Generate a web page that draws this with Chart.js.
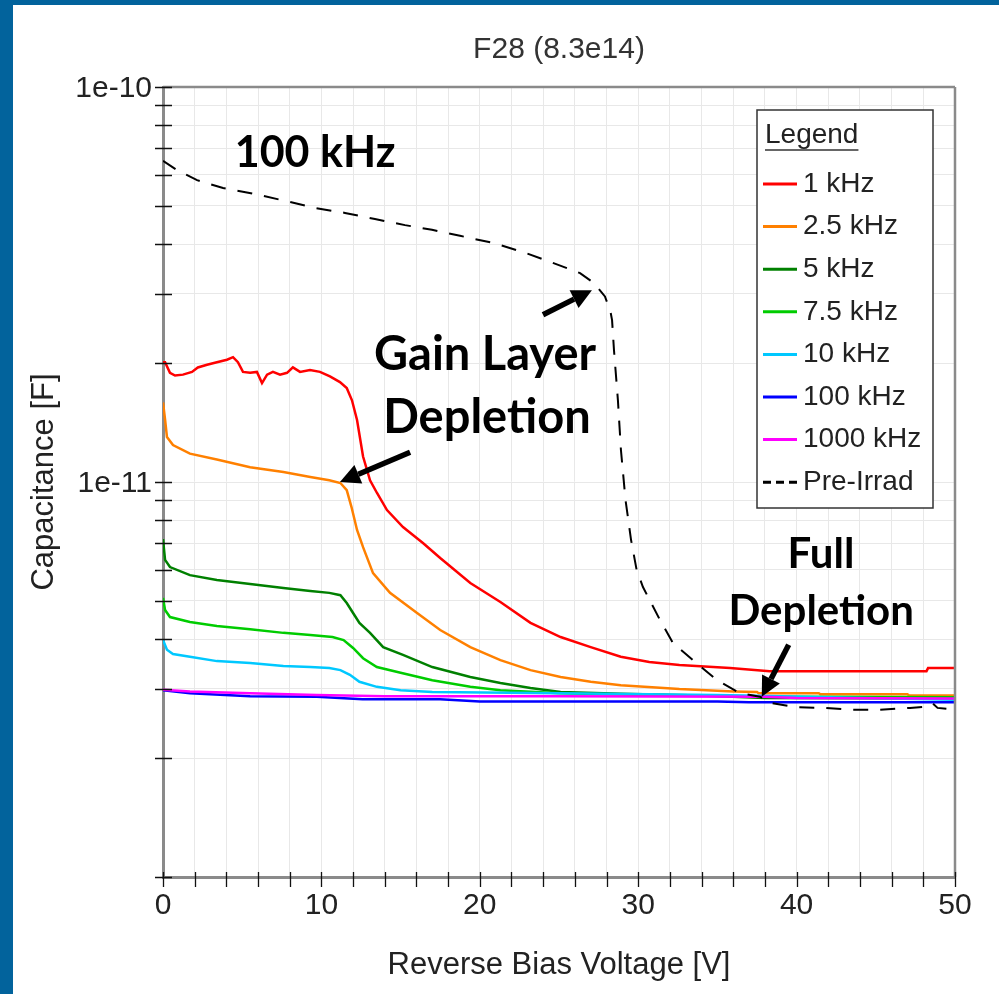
<!DOCTYPE html>
<html>
<head>
<meta charset="utf-8">
<title>F28 (8.3e14)</title>
<script src="https://cdn.jsdelivr.net/npm/chart.js@4.4.1/dist/chart.umd.min.js"></script>
<style>
  html, body { margin: 0; padding: 0; background: #ffffff; }
  #frame {
    width: 986px; height: 989px;
    border-left: 13px solid #02639c;
    border-top: 5px solid #02639c;
    background: #ffffff;
  }
  canvas { display: block; }
</style>
</head>
<body>
<div id="frame"><canvas id="cv" width="986" height="989"></canvas></div>
<script>
// ---- measured C-V curves (voltage in V, capacitance in pF) ----
const PF = 1e-12;

const volt1k = [0, 0.13, 0.44, 0.76, 1.26, 1.83, 2.2, 2.78, 3.4, 4.04, 4.42, 4.73, 5.05, 5.5, 5.93, 6.25, 6.57, 6.94, 7.39, 7.83, 8.2, 8.65, 9.28, 9.91, 10.54, 11.17, 11.6, 11.93, 12.25, 12.63, 13.07, 13.51, 14.14, 15.15, 16.41, 17.5, 19.4, 21.3, 23.2, 25.1, 27.0, 28.9, 30.7, 32.6, 35.8, 38.3, 44.0, 48.2, 48.3, 50];
const cap1k  = [20.1, 20.1, 18.9, 18.6, 18.7, 19.0, 19.5, 19.8, 20.1, 20.4, 20.7, 20.1, 19.0, 18.9, 19.0, 17.8, 18.7, 19.0, 18.7, 18.9, 19.5, 19.0, 19.2, 19.0, 18.5, 17.9, 17.3, 16.1, 14.35, 11.6, 10.1, 9.38, 8.49, 7.69, 7.01, 6.42, 5.55, 4.97, 4.40, 4.05, 3.82, 3.61, 3.50, 3.44, 3.38, 3.32, 3.32, 3.32, 3.38, 3.38];

const volt2k5 = [0, 0.13, 0.25, 0.63, 1.7, 3.4, 5.5, 7.6, 9.3, 10.5, 11.2, 11.6, 11.9, 12.25, 12.63, 13.26, 14.33, 16.04, 17.5, 19.4, 21.3, 23.2, 25.1, 27.0, 28.9, 32.6, 36.0, 37.5, 37.6, 41.4, 41.5, 47.0, 47.1, 50];
const cap2k5  = [15.9, 14.4, 13.0, 12.4, 11.8, 11.4, 10.9, 10.6, 10.3, 10.1, 9.94, 9.54, 8.64, 7.56, 6.84, 5.88, 5.24, 4.66, 4.22, 3.82, 3.54, 3.34, 3.21, 3.12, 3.06, 2.99, 2.95, 2.94, 2.92, 2.92, 2.90, 2.90, 2.88, 2.88];

const volt5k = [0, 0.13, 0.44, 1.7, 3.4, 5.5, 7.6, 9.3, 10.5, 11.2, 11.6, 12.0, 12.4, 13.07, 13.9, 15.15, 17.0, 19.4, 21.3, 23.2, 25.1, 28.9, 33.9, 38.0, 50];
const cap5k  = [7.17, 6.35, 6.09, 5.81, 5.65, 5.52, 5.39, 5.30, 5.24, 5.17, 4.94, 4.66, 4.40, 4.15, 3.82, 3.65, 3.40, 3.21, 3.10, 3.01, 2.94, 2.91, 2.88, 2.84, 2.83];

const volt7k5 = [0, 0.13, 0.44, 1.7, 3.4, 5.5, 7.6, 9.3, 10.7, 11.4, 12.0, 12.63, 13.5, 15.0, 17.0, 19.4, 21.3, 25.1, 30.7, 40.0, 50];
const cap7k5  = [5.09, 4.74, 4.55, 4.42, 4.32, 4.24, 4.15, 4.10, 4.05, 3.98, 3.80, 3.58, 3.40, 3.29, 3.15, 3.03, 2.97, 2.92, 2.89, 2.86, 2.85];

const volt10k = [0, 0.25, 0.63, 1.7, 3.4, 5.5, 7.6, 9.3, 10.5, 11.2, 11.8, 12.4, 13.5, 15.0, 17.0, 25.0, 35.0, 50];
const cap10k  = [3.98, 3.76, 3.67, 3.61, 3.52, 3.48, 3.42, 3.40, 3.38, 3.34, 3.25, 3.12, 3.03, 2.97, 2.94, 2.92, 2.89, 2.81];

const volt100k = [0, 1.7, 5.5, 9.7, 12.6, 17.5, 20.0, 35.0, 37.0, 50];
const cap100k  = [2.97, 2.92, 2.87, 2.86, 2.82, 2.82, 2.78, 2.78, 2.77, 2.77];

const volt1000k = [0, 1.7, 5.5, 9.7, 14.0, 25.0, 38.0, 40.0, 50];
const cap1000k  = [2.98, 2.95, 2.92, 2.89, 2.87, 2.87, 2.86, 2.84, 2.83];

const voltPre = [0, 0.88, 2.15, 3.79, 5.81, 7.70, 9.60, 11.49, 13.38, 15.28, 16.98, 18.75, 20.83, 22.73, 24.43, 26.33, 27.2, 27.9, 28.25, 28.35, 28.47, 28.72, 28.91, 29.2, 29.55, 29.9, 30.3, 31.38, 32.2, 33.46, 34.97, 36.43, 37.69, 38.32, 40.0, 41.67, 43.56, 45.27, 47.16, 48.3, 48.6, 48.9, 50];
const capPre  = [65.0, 61.6, 58.1, 55.5, 53.6, 51.5, 49.4, 48.0, 46.3, 44.7, 43.5, 42.0, 40.3, 38.2, 36.1, 33.8, 31.9, 29.5, 27.0, 25.7, 21.6, 16.1, 12.05, 9.0, 7.13, 5.99, 5.42, 4.47, 3.91, 3.54, 3.15, 2.92, 2.86, 2.76, 2.69, 2.68, 2.65, 2.65, 2.68, 2.70, 2.75, 2.68, 2.65];

const seriesNames  = ['1 kHz', '2.5 kHz', '5 kHz', '7.5 kHz', '10 kHz', '100 kHz', '1000 kHz', 'Pre-Irrad'];
const seriesColors = ['#ff0000', '#ff8000', '#008000', '#00cc00', '#00c8ff', '#0000ff', '#ff00ff', '#000000'];
const seriesVolts  = [volt1k, volt2k5, volt5k, volt7k5, volt10k, volt100k, volt1000k, voltPre];
const seriesCaps   = [cap1k, cap2k5, cap5k, cap7k5, cap10k, cap100k, cap1000k, capPre];

// ---- axis tick labels ----
const xTickLabels = ['0', '10', '20', '30', '40', '50'];
const yTickValues = [1e-10, 1e-11];
const yTickLabels = ['1e-10', '1e-11'];

const chartTitle = 'F28 (8.3e14)';

// ---- callouts (positions in data units: V, pF) ----
const noteTexts = ['100 kHz', 'Gain Layer', 'Depletion', 'Full', 'Depletion'];
const noteV     = [9.6, 20.33, 20.45, 41.54, 41.55];
const noteC     = [62.7, 19.2, 13.3, 6.06, 4.35];
const noteSize  = [43, 47, 47, 42, 42];

const arrowFromV = [15.6, 23.99, 39.5];
const arrowFromC = [11.9, 26.5, 3.87];
const arrowToV   = [11.17, 27.08, 37.8];
const arrowToC   = [10.0, 30.6, 2.86];

const TXT = '#222222';
const AXIS = '#8a8a8a';
const GRID = '#e8e8e8';
const SANS = "'Liberation Sans', Arial, sans-serif";

const datasets = seriesNames.map((name, i) => ({
  label: name,
  data: seriesVolts[i].map((v, k) => ({ x: v, y: seriesCaps[i][k] * PF })),
  borderColor: seriesColors[i],
  backgroundColor: seriesColors[i],
  borderWidth: i === 7 ? 2 : 2.5,
  borderDash: i === 7 ? [15, 12] : [],
  pointRadius: 0,
  showLine: true,
  fill: false,
  tension: 0,
  order: seriesNames.length - i
}));

// title over the plot area, frame, crossing tick marks, legend box and callouts
const decorations = {
  id: 'decorations',
  afterDatasetsDraw(chart) {
    const { ctx, chartArea: a, scales } = chart;
    ctx.save();
    ctx.strokeStyle = AXIS;
    ctx.lineWidth = 2.5;
    ctx.beginPath();
    ctx.moveTo(a.left, a.top); ctx.lineTo(a.right, a.top);
    ctx.moveTo(a.right, a.top); ctx.lineTo(a.right, a.bottom);
    ctx.stroke();

    ctx.strokeStyle = '#111111';
    ctx.lineWidth = 1.3;
    ctx.beginPath();
    scales.x.ticks.forEach(t => {
      const px = Math.round(scales.x.getPixelForValue(t.value)) + 0.5;
      ctx.moveTo(px, a.bottom - 5); ctx.lineTo(px, a.bottom + 10);
    });
    scales.y.ticks.forEach(t => {
      const py = Math.round(scales.y.getPixelForValue(t.value)) + 0.5;
      ctx.moveTo(a.left - 8, py); ctx.lineTo(a.left + 9, py);
    });
    ctx.stroke();
    ctx.restore();
  },
  afterDraw(chart) {
    const { ctx, chartArea: a, scales } = chart;
    ctx.save();

    // chart title, centred over the plot area
    ctx.font = '30px ' + SANS;
    ctx.fillStyle = '#333333';
    ctx.textAlign = 'center';
    ctx.textBaseline = 'middle';
    ctx.fillText(chartTitle, (a.left + a.right) / 2, a.top - 37);

    // legend
    const w = 176, h = 398;
    const left = a.right - 22 - w, top = a.top + 23;
    ctx.fillStyle = '#ffffff';
    ctx.fillRect(left, top, w, h);
    ctx.strokeStyle = '#333333';
    ctx.lineWidth = 1.5;
    ctx.strokeRect(left, top, w, h);
    ctx.font = '28px ' + SANS;
    ctx.fillStyle = TXT;
    ctx.textAlign = 'left';
    ctx.textBaseline = 'middle';
    ctx.fillText('Legend', left + 8, top + 25);
    const lw = ctx.measureText('Legend').width;
    ctx.beginPath();
    ctx.lineWidth = 1.5;
    ctx.moveTo(left + 8, top + 40); ctx.lineTo(left + 8 + lw, top + 40);
    ctx.stroke();
    chart.data.datasets.forEach((ds, i) => {
      const y = top + 74 + i * 42.6;
      ctx.strokeStyle = ds.borderColor;
      ctx.lineWidth = 3;
      ctx.setLineDash(ds.borderDash.length ? [8, 5] : []);
      ctx.beginPath();
      ctx.moveTo(left + 6, y); ctx.lineTo(left + 40, y);
      ctx.stroke();
      ctx.setLineDash([]);
      ctx.fillStyle = TXT;
      ctx.fillText(ds.label, left + 46, y);
    });

    // callout texts
    ctx.fillStyle = '#000000';
    ctx.textAlign = 'center';
    ctx.textBaseline = 'alphabetic';
    noteTexts.forEach((t, i) => {
      ctx.font = 'bold ' + noteSize[i] + 'px Lato, sans-serif';
      ctx.fillText(t, scales.x.getPixelForValue(noteV[i]), scales.y.getPixelForValue(noteC[i] * PF));
    });

    // arrows
    ctx.strokeStyle = '#000000';
    ctx.fillStyle = '#000000';
    arrowFromV.forEach((v, i) => {
      const x0 = scales.x.getPixelForValue(v);
      const y0 = scales.y.getPixelForValue(arrowFromC[i] * PF);
      const x1 = scales.x.getPixelForValue(arrowToV[i]);
      const y1 = scales.y.getPixelForValue(arrowToC[i] * PF);
      const ang = Math.atan2(y1 - y0, x1 - x0);
      const head = 20, half = 10;
      const bx = x1 - head * Math.cos(ang), by = y1 - head * Math.sin(ang);
      ctx.lineWidth = 5.5;
      ctx.beginPath();
      ctx.moveTo(x0, y0); ctx.lineTo(bx, by);
      ctx.stroke();
      ctx.beginPath();
      ctx.moveTo(x1, y1);
      ctx.lineTo(bx + half * Math.sin(ang), by - half * Math.cos(ang));
      ctx.lineTo(bx - half * Math.sin(ang), by + half * Math.cos(ang));
      ctx.closePath();
      ctx.fill();
    });
    ctx.restore();
  }
};

new Chart(document.getElementById('cv'), {
  type: 'scatter',
  data: { datasets },
  options: {
    responsive: false,
    animation: false,
    devicePixelRatio: 1,
    layout: { padding: { left: 0, top: 82, right: 44, bottom: 0 } },
    plugins: {
      legend: { display: false },
      tooltip: { enabled: false },
      title: { display: false }
    },
    scales: {
      x: {
        type: 'linear',
        min: 0, max: 50,
        afterFit: s => { s.height = 117; },
        grid: { color: GRID, lineWidth: 1, drawTicks: false },
        border: { display: true, color: AXIS, width: 3 },
        ticks: {
          stepSize: 2, autoSkip: false, maxRotation: 0,
          color: TXT, padding: 11,
          font: { family: SANS, size: 30 },
          callback: v => (xTickLabels.includes(String(v)) ? String(v) : '')
        },
        title: {
          display: true, text: 'Reverse Bias Voltage [V]', color: TXT,
          font: { family: SANS, size: 31, lineHeight: 1 },
          padding: { top: 0, bottom: 13.5 }
        }
      },
      y: {
        type: 'logarithmic',
        min: 1e-12, max: 1e-10,
        afterFit: s => { s.width = 150; },
        afterBuildTicks: s => {
          s.ticks = s.ticks.filter(t => {
            const m = t.value / Math.pow(10, Math.floor(Math.log10(t.value) + 1e-9));
            return Math.abs(m - Math.round(m)) < 1e-6;
          });
        },
        grid: { color: GRID, lineWidth: 1, drawTicks: false },
        border: { display: true, color: AXIS, width: 3 },
        ticks: {
          autoSkip: false, color: TXT, padding: 11, labelOffset: 2,
          font: { family: SANS, size: 30 },
          callback: v => {
            const k = yTickValues.findIndex(t => Math.abs(Math.log10(v) - Math.log10(t)) < 1e-6);
            return k >= 0 ? yTickLabels[k] : '';
          }
        },
        title: {
          display: true, text: 'Capacitance [F]', color: TXT,
          font: { family: SANS, size: 31, lineHeight: 1 },
          padding: { top: 15.5, bottom: 0 }
        }
      }
    }
  },
  plugins: [decorations]
});
</script>
</body>
</html>
